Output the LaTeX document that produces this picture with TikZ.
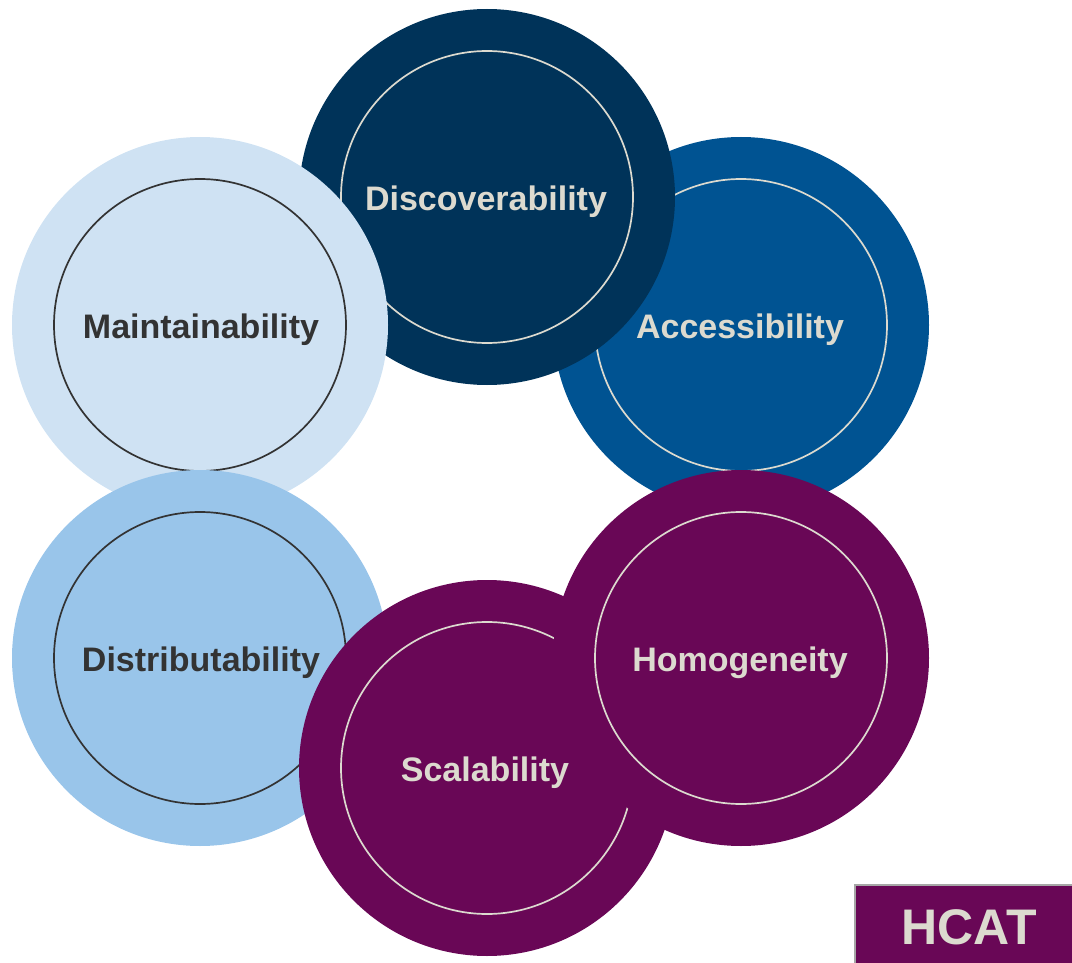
\documentclass[tikz,border=0pt]{standalone}
\usepackage{fontspec}
\setmainfont{Liberation Sans}
\definecolor{navy}{HTML}{003359}
\definecolor{midblue}{HTML}{005392}
\definecolor{paleblue}{HTML}{CFE2F3}
\definecolor{skyblue}{HTML}{99C5EA}
\definecolor{plum}{HTML}{690756}
\definecolor{cream}{HTML}{DCDACF}
\definecolor{ink}{HTML}{333333}
\tikzset{
  outerdisc/.style={circle, minimum size=376pt, inner sep=0pt, draw=none},
  innerring/.style={circle, minimum size=292pt, inner sep=0pt, fill=none, line width=1.7pt},
  lbl/.style={font=\fontsize{34}{40}\selectfont\bfseries, inner sep=0pt},
}
\newcommand{\petal}[5]{% name, x, y, fill, ring
  \node[outerdisc, fill=#4] (#1) at (#2,#3) {};
  \node[innerring, draw=#5] (#1in) at (#1) {};
}
\begin{document}
\begin{tikzpicture}[x=1pt,y=-1pt]
\useasboundingbox (0,0) rectangle (1072,963);
% order: Accessibility, Discoverability, Maintainability, Distributability, Scalability, Homogeneity
\petal{acc}{741}{325}{midblue}{cream}
\node[lbl, text=cream] (acct) at (740,330) {Accessibility};
\petal{disc}{487}{197}{navy}{cream}
\node[lbl, text=cream] (disct) at (486,202) {Discoverability};
\petal{main}{200}{325}{paleblue}{ink}
\node[lbl, text=ink] (maint) at (201,330) {Maintainability};
\petal{dist}{200}{658}{skyblue}{ink}
\node[lbl, text=ink] (distt) at (201,663) {Distributability};
\petal{scal}{487}{768}{plum}{cream}
\node[lbl, text=cream] (scalt) at (485,773) {Scalability};
\petal{homo}{741}{658}{plum}{cream}
\node[lbl, text=cream] (homot) at (740,663) {Homogeneity};
% HCAT box
\node[draw=gray!70, line width=2pt, fill=plum, minimum width=222pt, minimum height=82pt, inner sep=0pt, anchor=north west] (hcat) at (854,884) {};
\node[font=\fontsize{50}{56}\selectfont\bfseries, text=cream, inner sep=0pt] (hcatt) at (969,927) {HCAT};
\end{tikzpicture}
\end{document}
